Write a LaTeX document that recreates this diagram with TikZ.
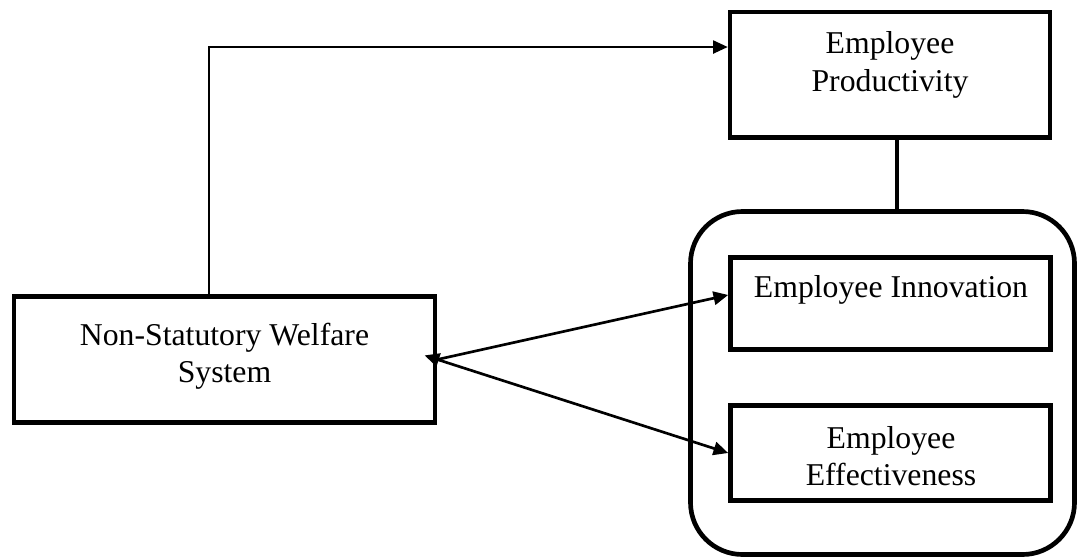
\documentclass[tikz,border=0pt]{standalone}
\usepackage{fontspec}
\setmainfont{Liberation Serif}
\usetikzlibrary{arrows.meta}

\begin{document}
\begin{tikzpicture}[x=0.75pt,y=0.75pt,yscale=-1,xscale=1,
  >={Triangle[length=11pt,width=10pt]},
  box/.style={draw,line width=3.5pt,inner sep=0pt},
  txt/.style={inner sep=0pt,align=center,font=\fontsize{23.8}{28}\selectfont},
  arr/.style={line width=2pt}]
\useasboundingbox (0,0) rectangle (1077,557);

\node[box,minimum width=315.75pt,minimum height=94.5pt] (wbox) at (224.5,359.5) {};
\node[box,minimum width=240pt,minimum height=94pt] (pbox) at (890,74.75) {};
\node[box,rounded corners=39pt,minimum width=288pt,minimum height=257.25pt] (grp) at (882.5,383) {};
\node[box,minimum width=240pt,minimum height=69pt] (ibox) at (890.5,303.5) {};
\node[box,minimum width=240pt,minimum height=71.25pt] (ebox) at (890.5,453) {};

\node[txt] (wtxt) at (224.5,356) {Non-Statutory Welfare\\System};
\node[txt] (ptxt) at (890,65) {Employee\\Productivity};
\node[txt] (itxt) at (891,290) {Employee Innovation};
\node[txt] (etxt) at (891,456) {Employee\\Effectiveness};

\draw[line width=1pt,->] ([xshift=-11.6pt]wbox.north) |- ([yshift=-20.8pt]pbox.west);
\draw[line width=3.5pt] ([xshift=5.25pt]pbox.south) -- ([xshift=5.25pt]pbox.south |- grp.north);
\draw[arr,->] (wbox.east) -- ([yshift=-6.4pt]ibox.west);
\draw[arr,<->,shorten <=-10pt] (wbox.east) -- (ebox.west);

\end{tikzpicture}
\end{document}
